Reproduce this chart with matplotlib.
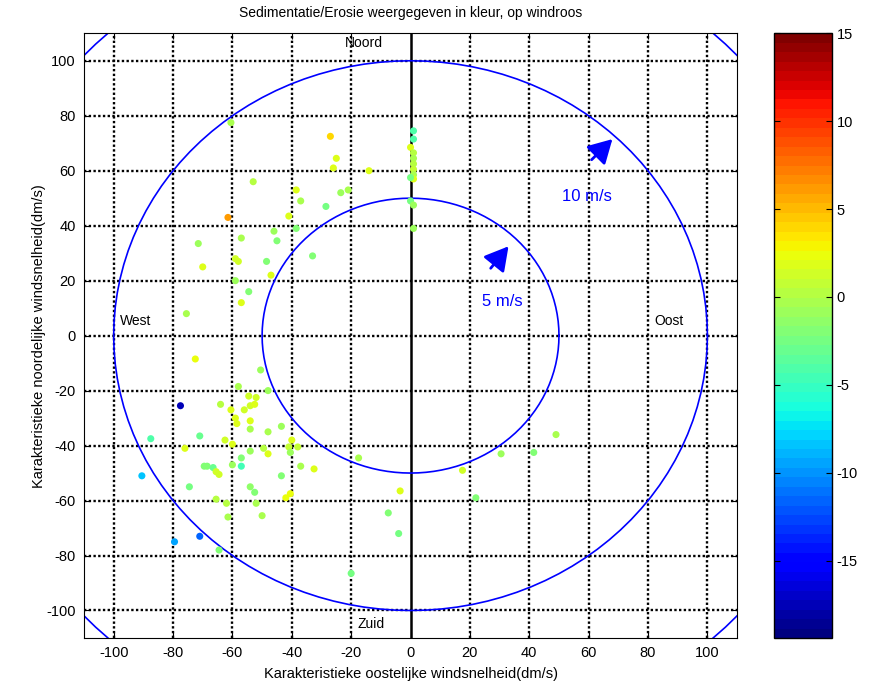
import numpy as np
import matplotlib.pyplot as plt

plt.rcParams['font.family'] = ['Liberation Sans', 'DejaVu Sans']
plt.rcParams['axes.unicode_minus'] = False

# oostelijke (x) en noordelijke (y) windsnelheid (dm/s), sedimentatie/erosie (kleur)
wind_oost = [
    -60.5, -53, -38.5, -37, -61.5, -41, -38.5, -46, -45, -57, -71.5, -59, -58,
    -48.5, -70, -47, -59, -54.5, -57, -75.5, -33, -27, -25, -26, -14, -23.5,
    -21, -28.5,
    1, 1, 0, 1, 1, 1, 1, 1, 1, 0, 0, 1, 1,
    -72.5, -50.5, -58, -48, -77.5, -64, -54.5, -52, -60.5, -56, -54, -52.5,
    -59, -58.5, -54, -54, -48, -43.5, -87.5, -71, -76, -62.5, -60, -40, -41,
    -38, -40.5, -49.5, -48, -54, -57, -60, -57, -69.5, -68.5, -66.5, -65.5,
    -64.5, -37, -90.5, -43.5, -74.5, -54, -52.5, -40.5, -42, -65.5, -62, -52,
    -61.5, -50, -71, -79.5, -64.5,
    -32.5, -17.5, -3.5, -7.5, -4, -20, 17.5, 22, 30.5, 41.5, 49,
]
wind_noord = [
    77.5, 56, 53, 49, 43, 43.5, 39, 38, 34.5, 35.5, 33.5, 28, 27,
    27, 25, 22, 20, 16, 12, 8, 29, 72.5, 64.5, 61, 60, 52,
    53, 47,
    74.5, 71.5, 68.5, 66.5, 64.5, 62.5, 60.5, 58.5, 57, 57.5, 49, 47.5, 39,
    -8.5, -12.5, -18.5, -20, -25.5, -25, -22, -22.5, -27, -27, -25.5, -25,
    -30, -32, -31, -34, -35, -33, -37.5, -36.5, -41, -38, -39.5, -38, -40.5,
    -40.5, -42.5, -41, -43, -42, -44.5, -47, -47.5, -47.5, -47.5, -48, -49.5,
    -50.5, -47.5, -51, -51, -55, -55, -57, -57.5, -59, -59.5, -61, -61,
    -66, -65.5, -73, -75, -78,
    -48.5, -44.5, -56.5, -64.5, -72, -86.5, -49, -59, -43, -42.5, -36,
]
sedimentatie = [
    -0.5, 0, 2, -0.5, 6, 2, -2, -1, -2.2, -0.5, -1, 1.5, 1.5,
    -2, 2, 2, -1, -2.2, 2, -0.5, -2, 4, 2, 2, 2, -1,
    -0.5, -2.5,
    -4.3, -4, 2, 0, -0.5, 0, 0.5, -0.5, 2, -2.5, -2.5, -1, -1,
    2.5, -1, -0.5, -1, -17.5, 0, 1.5, 1.5, 2, 1.5, 1.5, 2,
    2, 2, 2, -0.5, -0.5, -1, -4, -3, 2, 1.5, 2, 2, 1,
    0.5, -1, 0, 2, -1, -2, -1, -4.5, -2, -2, -3, 1.5,
    1.5, -0.5, -8.5, -2, -2.5, -1.5, -2, 2.5, 2.5, 0, 0, -0.5,
    -0.5, -0.5, -11.5, -9.5, -2,
    2, -0.5, 2, -2, -2.5, -2.5, 1.5, -2, -1, -2, -0.5,
]

cirkel_straal = [50, 100, 150]
tick_waarden = np.arange(-100, 101, 20)
kleur_ticks = [-15, -10, -5, 0, 5, 10, 15]
kleur_min, kleur_max = -19.4, 15

fig = plt.figure(figsize=(8.72, 6.86), dpi=100)
ax = fig.add_axes([0.0963, 0.07, 0.749, 0.8815])
cax = fig.add_axes([0.8876, 0.07, 0.0665, 0.8815])

# rooster: zwarte stippellijnen
for t in tick_waarden:
    ax.axhline(t, color='black', linestyle=(0, (1, 1)), linewidth=1.7, zorder=1)
    if t != 0:
        ax.axvline(t, color='black', linestyle=(0, (1, 1)), linewidth=1.7, zorder=1)
ax.axvline(0, color='black', linewidth=1.8, zorder=1)

# windroos cirkels
hoek = np.linspace(0, 2 * np.pi, 121)
for r in cirkel_straal:
    ax.plot(r * np.cos(hoek), r * np.sin(hoek), color='blue', linewidth=1.2, zorder=2)

pijl = dict(arrowstyle='-|>,head_length=0.8,head_width=0.45',
            color='blue', lw=2, mutation_scale=18, shrinkA=0, shrinkB=0)
ax.annotate('', xy=(68, 71.5), xytext=(61, 64), arrowprops=pijl, zorder=3)
ax.annotate('', xy=(33, 32.5), xytext=(27, 24.5), arrowprops=pijl, zorder=3)
ax.text(51, 50.5, '10 m/s', color='blue', fontsize=12, va='center', ha='left')
ax.text(24, 12.5, '5 m/s', color='blue', fontsize=12, va='center', ha='left')

ax.text(-22, 106.5, 'Noord', fontsize=10, va='center', ha='left')
ax.text(-18, -105, 'Zuid', fontsize=10, va='center', ha='left')
ax.text(-98, 5.5, 'West', fontsize=10, va='center', ha='left')
ax.text(82, 5.5, 'Oost', fontsize=10, va='center', ha='left')

sc = ax.scatter(wind_oost, wind_noord, c=sedimentatie, cmap=plt.get_cmap('jet', 64),
                vmin=kleur_min, vmax=kleur_max, s=26, linewidths=0, zorder=4)

ax.set_xlim(-110, 110)
ax.set_ylim(-110, 110)
ax.set_xticks(tick_waarden)
ax.set_yticks(tick_waarden)
ax.tick_params(direction='in', top=True, right=True, length=4, labelsize=10.5, pad=6)
ax.set_xlabel('Karakteristieke oostelijke windsnelheid(dm/s)', fontsize=10.5, labelpad=5)
ax.set_ylabel('Karakteristieke noordelijke windsnelheid(dm/s)', fontsize=10.5, labelpad=0)
ax.set_title('Sedimentatie/Erosie weergegeven in kleur, op windroos', fontsize=10, pad=12)

cb = fig.colorbar(sc, cax=cax, ticks=kleur_ticks)
cb.ax.tick_params(direction='in', left=True, right=True, length=4, labelsize=10.5)
cb.outline.set_linewidth(1)

fig.savefig('out.png', dpi=100)
